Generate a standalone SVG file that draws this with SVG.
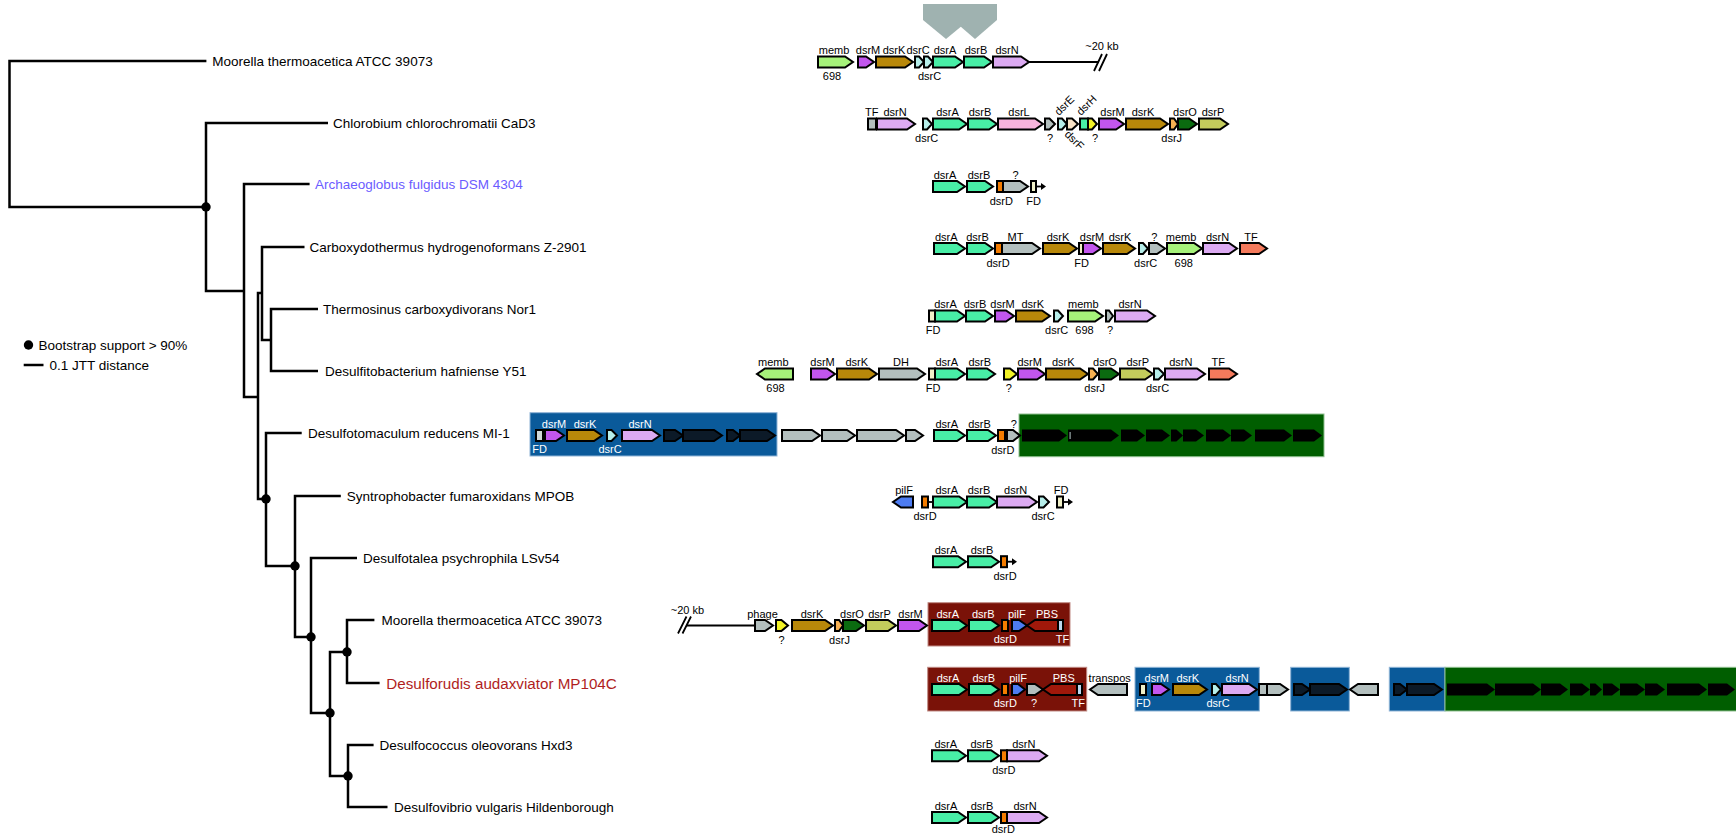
<svg xmlns="http://www.w3.org/2000/svg" width="1736" height="835" viewBox="0 0 1736 835">
<style>
.tr{fill:none;stroke:#000;stroke-width:2.5}
.nd{fill:#000}
.sp{font-family:'Liberation Sans',Arial,sans-serif;font-size:13.5px;fill:#000}
.lb{font-family:'Liberation Sans',Arial,sans-serif;font-size:11px;fill:#000;text-anchor:middle}
.w{fill:#fff}
.g{stroke:#000;stroke-width:2;stroke-linejoin:miter}
.ln{stroke:#000;stroke-width:1.8;fill:none}
.mint{fill:#48eea6}.dN{fill:#dcaaf2}.dM{fill:#c256ee}.dK{fill:#b8880a}.dC{fill:#b6eeea}
.memb{fill:#a6f27a}.dL{fill:#f8b4dc}.gr{fill:#b3bfbe}.ye{fill:#f2f226}.dJ{fill:#f7b052}
.dO{fill:#0b6b10}.dP{fill:#c3cc5c}.sal{fill:#f47a5c}.dD{fill:#f47c00}.FD{fill:#f0f0c8}
.pil{fill:#4d7cf2}.PBS{fill:#a0180a}.ltb{fill:#bcd8f0}.dF{fill:#f8e2c6}.nv{fill:#0c1a28}.bk{fill:#000}
.bbox{fill:#0a5a9a;stroke:#8fb4d6;stroke-width:1}
.gbox{fill:#005e00;stroke:#8fc08f;stroke-width:1}
.rbox{fill:#7a1208;stroke:#c08a84;stroke-width:1}
</style>

<g id="marker-arrows" fill="#9fb2b0">
<path d="M923 4H969V20L946 39L923 20Z"/>
<path d="M953 4H997V20L975 39L953 20Z"/>
</g>

<g id="tree">
<path class="tr" d="M206.4 61H9.5V207H206.4"/>
<path class="tr" d="M328 123H206V291H244"/>
<path class="tr" d="M309.6 184H244V397H258"/>
<path class="tr" d="M262 293H258V499H266"/>
<path class="tr" d="M304.5 247H262V340H271"/>
<path class="tr" d="M318 309H271V371H318"/>
<path class="tr" d="M301.7 433H266V566H295"/>
<path class="tr" d="M340.8 496H295V637H311"/>
<path class="tr" d="M357 558H311V713H330"/>
<path class="tr" d="M347 652H330V776H348"/>
<path class="tr" d="M374.4 620H347V683H379.6"/>
<path class="tr" d="M373.6 745H348V807H387.5"/>
<circle class="nd" cx="206" cy="207" r="4.7"/>
<circle class="nd" cx="266" cy="499" r="4.7"/>
<circle class="nd" cx="295" cy="566" r="4.7"/>
<circle class="nd" cx="311" cy="637" r="4.7"/>
<circle class="nd" cx="330" cy="713" r="4.7"/>
<circle class="nd" cx="347" cy="652" r="4.7"/>
<circle class="nd" cx="348" cy="776" r="4.7"/>
</g>

<g id="species">
<text class="sp" x="212.3" y="65.8">Moorella thermoacetica ATCC 39073</text>
<text class="sp" x="333" y="127.8">Chlorobium chlorochromatii CaD3</text>
<text class="sp" x="315" y="188.8" style="fill:#6b5cff">Archaeoglobus fulgidus DSM 4304</text>
<text class="sp" x="309.6" y="251.8">Carboxydothermus hydrogenoformans Z-2901</text>
<text class="sp" x="323" y="313.8">Thermosinus carboxydivorans Nor1</text>
<text class="sp" x="325" y="375.8">Desulfitobacterium hafniense Y51</text>
<text class="sp" x="308" y="437.8">Desulfotomaculum reducens MI-1</text>
<text class="sp" x="346.8" y="500.8">Syntrophobacter fumaroxidans MPOB</text>
<text class="sp" x="363" y="562.8">Desulfotalea psychrophila LSv54</text>
<text class="sp" x="381.6" y="624.8">Moorella thermoacetica ATCC 39073</text>
<text class="sp" x="386.3" y="688.5" style="fill:#b01e1e;font-size:15.2px">Desulforudis audaxviator MP104C</text>
<text class="sp" x="379.6" y="749.8">Desulfococcus oleovorans Hxd3</text>
<text class="sp" x="394" y="811.8">Desulfovibrio vulgaris Hildenborough</text>
</g>

<g id="legend">
<circle class="nd" cx="28.5" cy="345" r="4.7"/>
<text class="sp" x="38.4" y="350">Bootstrap support &gt; 90%</text>
<path class="tr" d="M23.7 365H43.5"/>
<text class="sp" x="49.4" y="370">0.1 JTT distance</text>
</g>

<g id="row1" transform="translate(0,62)">
<path class="ln" d="M1029 0H1099"/>
<path class="ln" d="M1094 9L1102 -8M1099 9L1107 -8"/>
<path class="g memb" d="M818 -5.5H845L853 0L845 5.5H818Z"/>
<path class="g dM" d="M858 -5.5H866L874 0L866 5.5H858Z"/>
<path class="g dK" d="M876 -5.5H905L913 0L905 5.5H876Z"/>
<path class="g dC" d="M915 -5.5H919L924 0L919 5.5H915Z"/>
<path class="g dC" d="M924 -5.5H928L933 0L928 5.5H924Z"/>
<path class="g mint" d="M933 -5.5H955L963 0L955 5.5H933Z"/>
<path class="g mint" d="M964 -5.5H984L992 0L984 5.5H964Z"/>
<path class="g dN" d="M993 -5.5H1021L1029 0L1021 5.5H993Z"/>
<text class="lb" x="834" y="-8">memb</text><text class="lb" x="868" y="-8">dsrM</text><text class="lb" x="894" y="-8">dsrK</text><text class="lb" x="918" y="-8">dsrC</text><text class="lb" x="945" y="-8">dsrA</text><text class="lb" x="976" y="-8">dsrB</text><text class="lb" x="1007" y="-8">dsrN</text>
<text class="lb" x="832" y="18">698</text><text class="lb" x="929.5" y="18">dsrC</text>
<text class="lb" x="1102" y="-12">~20 kb</text>
</g>

<g id="row2" transform="translate(0,124)">
<rect class="g gr" x="868" y="-5.5" width="8" height="11"/>
<path class="g dN" d="M877 -5.5H907L915 0L907 5.5H877Z"/>
<path class="g dC" d="M923 -5.5H927L932 0L927 5.5H923Z"/>
<path class="g mint" d="M933 -5.5H959L967 0L959 5.5H933Z"/>
<path class="g mint" d="M968 -5.5H989L997 0L989 5.5H968Z"/>
<path class="g dL" d="M998 -5.5H1035L1043 0L1035 5.5H998Z"/>
<path class="g gr" d="M1045 -5.5H1049.5L1055 0L1049.5 5.5H1045Z"/>
<path class="g dC" d="M1058 -5.5H1062L1067 0L1062 5.5H1058Z"/>
<path class="g dF" d="M1067 -5.5H1072L1078 0L1072 5.5H1067Z"/>
<rect class="g mint" x="1080" y="-5.5" width="8" height="11"/>
<path class="g ye" d="M1088 -5.5H1092L1097 0L1092 5.5H1088Z"/>
<path class="g dM" d="M1099 -5.5H1116L1124 0L1116 5.5H1099Z"/>
<path class="g dK" d="M1126 -5.5H1160L1168 0L1160 5.5H1126Z"/>
<path class="g dJ" d="M1170 -5.5H1174L1178 0L1174 5.5H1170Z"/>
<path class="g dO" d="M1178 -5.5H1189L1197 0L1189 5.5H1178Z"/>
<path class="g dP" d="M1199 -5.5H1220L1228 0L1220 5.5H1199Z"/>
<text class="lb" x="871.7" y="-8">TF</text><text class="lb" x="895" y="-8">dsrN</text><text class="lb" x="947.5" y="-8">dsrA</text><text class="lb" x="980" y="-8">dsrB</text><text class="lb" x="1019" y="-8">dsrL</text><text class="lb" x="1112.5" y="-8">dsrM</text><text class="lb" x="1143" y="-8">dsrK</text><text class="lb" x="1185" y="-8">dsrO</text><text class="lb" x="1213" y="-8">dsrP</text>
<text class="lb" x="926.7" y="18">dsrC</text><text class="lb" x="1050" y="18">?</text><text class="lb" x="1095" y="18">?</text><text class="lb" x="1171.7" y="18">dsrJ</text>
<text class="lb" style="text-anchor:start" transform="translate(1059,-8) rotate(-45)">dsrE</text>
<text class="lb" style="text-anchor:start" transform="translate(1081,-8) rotate(-45)">dsrH</text>
<text class="lb" style="text-anchor:start" transform="translate(1064,11) rotate(45)">dsrF</text>
</g>

<g id="row3" transform="translate(0,186.5)">
<path class="g mint" d="M933 -5.5H957L965 0L957 5.5H933Z"/>
<path class="g mint" d="M967 -5.5H985L993 0L985 5.5H967Z"/>
<rect class="g dD" x="997" y="-5.5" width="6" height="11"/>
<path class="g gr" d="M1003 -5.5H1020L1028 0L1020 5.5H1003Z"/>
<rect class="g FD" x="1031" y="-5.5" width="5" height="11"/>
<path class="ln" d="M1036 0H1042"/><path d="M1041 -3.5L1046 0L1041 3.5Z"/>
<text class="lb" x="945" y="-8">dsrA</text><text class="lb" x="979" y="-8">dsrB</text><text class="lb" x="1015.5" y="-8">?</text>
<text class="lb" x="1001.3" y="18">dsrD</text><text class="lb" x="1033.7" y="18">FD</text>
</g>

<g id="row4" transform="translate(0,248.5)">
<path class="g mint" d="M934 -5.5H957L965 0L957 5.5H934Z"/>
<path class="g mint" d="M967 -5.5H985L993 0L985 5.5H967Z"/>
<rect class="g dD" x="995" y="-5.5" width="7" height="11"/>
<path class="g gr" d="M1002 -5.5H1032L1040 0L1032 5.5H1002Z"/>
<path class="g dK" d="M1043 -5.5H1069L1077 0L1069 5.5H1043Z"/>
<rect class="g FD" x="1079" y="-5.5" width="4" height="11"/>
<path class="g dM" d="M1083 -5.5H1093L1101 0L1093 5.5H1083Z"/>
<path class="g dK" d="M1103 -5.5H1127L1135 0L1127 5.5H1103Z"/>
<path class="g dC" d="M1139 -5.5H1143L1148 0L1143 5.5H1139Z"/>
<path class="g gr" d="M1149 -5.5H1157L1165 0L1157 5.5H1149Z"/>
<path class="g memb" d="M1167 -5.5H1194L1202 0L1194 5.5H1167Z"/>
<path class="g dN" d="M1203 -5.5H1229L1237 0L1229 5.5H1203Z"/>
<path class="g sal" d="M1240 -5.5H1259L1267 0L1259 5.5H1240Z"/>
<text class="lb" x="946.3" y="-8">dsrA</text><text class="lb" x="977.5" y="-8">dsrB</text><text class="lb" x="1015.5" y="-8">MT</text><text class="lb" x="1058" y="-8">dsrK</text><text class="lb" x="1092" y="-8">dsrM</text><text class="lb" x="1120" y="-8">dsrK</text><text class="lb" x="1154.3" y="-8">?</text><text class="lb" x="1181" y="-8">memb</text><text class="lb" x="1217.5" y="-8">dsrN</text><text class="lb" x="1251" y="-8">TF</text>
<text class="lb" x="998" y="18">dsrD</text><text class="lb" x="1081.7" y="18">FD</text><text class="lb" x="1145.7" y="18">dsrC</text><text class="lb" x="1183.8" y="18">698</text>
</g>

<g id="row5" transform="translate(0,316)">
<rect class="g FD" x="929" y="-5.5" width="6" height="11"/>
<path class="g mint" d="M935 -5.5H957L965 0L957 5.5H935Z"/>
<path class="g mint" d="M966 -5.5H985L993 0L985 5.5H966Z"/>
<path class="g dM" d="M995 -5.5H1006L1014 0L1006 5.5H995Z"/>
<path class="g dK" d="M1016 -5.5H1042L1050 0L1042 5.5H1016Z"/>
<path class="g dC" d="M1054 -5.5H1058L1063 0L1058 5.5H1054Z"/>
<path class="g memb" d="M1068 -5.5H1095L1103 0L1095 5.5H1068Z"/>
<path class="g gr" d="M1106 -5.5H1109L1113 0L1109 5.5H1106Z"/>
<path class="g dN" d="M1115 -5.5H1147L1155 0L1147 5.5H1115Z"/>
<text class="lb" x="945.5" y="-8">dsrA</text><text class="lb" x="975" y="-8">dsrB</text><text class="lb" x="1002.5" y="-8">dsrM</text><text class="lb" x="1032.8" y="-8">dsrK</text><text class="lb" x="1083.3" y="-8">memb</text><text class="lb" x="1130" y="-8">dsrN</text>
<text class="lb" x="933" y="18">FD</text><text class="lb" x="1056.7" y="18">dsrC</text><text class="lb" x="1084.5" y="18">698</text><text class="lb" x="1110" y="18">?</text>
</g>

<g id="row6" transform="translate(0,374)">
<path class="g memb" d="M793 -5.5H765L757 0L765 5.5H793Z"/>
<path class="g dM" d="M811 -5.5H827L835 0L827 5.5H811Z"/>
<path class="g dK" d="M837 -5.5H869L877 0L869 5.5H837Z"/>
<path class="g gr" d="M879 -5.5H917L925 0L917 5.5H879Z"/>
<rect class="g FD" x="929" y="-5.5" width="6" height="11"/>
<path class="g mint" d="M935 -5.5H957L965 0L957 5.5H935Z"/>
<path class="g mint" d="M967 -5.5H987L995 0L987 5.5H967Z"/>
<path class="g ye" d="M1004 -5.5H1010L1017 0L1010 5.5H1004Z"/>
<path class="g dM" d="M1018 -5.5H1037L1045 0L1037 5.5H1018Z"/>
<path class="g dK" d="M1046 -5.5H1080L1088 0L1080 5.5H1046Z"/>
<path class="g dJ" d="M1089 -5.5H1093L1098 0L1093 5.5H1089Z"/>
<path class="g dO" d="M1099 -5.5H1111L1119 0L1111 5.5H1099Z"/>
<path class="g dP" d="M1120 -5.5H1145L1153 0L1145 5.5H1120Z"/>
<path class="g dC" d="M1154 -5.5H1158.5L1164 0L1158.5 5.5H1154Z"/>
<path class="g dN" d="M1165 -5.5H1197L1205 0L1197 5.5H1165Z"/>
<path class="g sal" d="M1209 -5.5H1229L1237 0L1229 5.5H1209Z"/>
<text class="lb" x="773.3" y="-8">memb</text><text class="lb" x="822.5" y="-8">dsrM</text><text class="lb" x="856.7" y="-8">dsrK</text><text class="lb" x="901" y="-8">DH</text><text class="lb" x="946.7" y="-8">dsrA</text><text class="lb" x="979.7" y="-8">dsrB</text><text class="lb" x="1029.7" y="-8">dsrM</text><text class="lb" x="1063.3" y="-8">dsrK</text><text class="lb" x="1105" y="-8">dsrO</text><text class="lb" x="1137.7" y="-8">dsrP</text><text class="lb" x="1180.8" y="-8">dsrN</text><text class="lb" x="1218.3" y="-8">TF</text>
<text class="lb" x="775.5" y="18">698</text><text class="lb" x="933" y="18">FD</text><text class="lb" x="1008.7" y="18">?</text><text class="lb" x="1094.7" y="18">dsrJ</text><text class="lb" x="1157.5" y="18">dsrC</text>
</g>

<g id="row7" transform="translate(0,435.5)">
<rect class="bbox" x="530" y="-22.8" width="247" height="43.3"/>
<rect class="gbox" x="1019" y="-21.5" width="305" height="42.7"/>
<rect class="g" fill="#d0d8d8" x="536" y="-5.5" width="7" height="11"/>
<path class="g dM" d="M545 -5.5H556L564 0L556 5.5H545Z"/>
<path class="g dK" d="M567 -5.5H594L602 0L594 5.5H567Z"/>
<path class="g dC" d="M607 -5.5H611.5L617 0L611.5 5.5H607Z"/>
<path class="g dN" d="M622 -5.5H652L660 0L652 5.5H622Z"/>
<path class="g nv" d="M664 -5.5H675L683 0L675 5.5H664Z"/>
<path class="g nv" d="M683 -5.5H714L722 0L714 5.5H683Z"/>
<path class="g nv" d="M727 -5.5H733L740 0L733 5.5H727Z"/>
<path class="g nv" d="M740 -5.5H767L775 0L767 5.5H740Z"/>
<path class="g gr" d="M782 -5.5H812L820 0L812 5.5H782Z"/>
<path class="g gr" d="M822 -5.5H847L855 0L847 5.5H822Z"/>
<path class="g gr" d="M857 -5.5H896L904 0L896 5.5H857Z"/>
<path class="g gr" d="M906 -5.5H915L923 0L915 5.5H906Z"/>
<path class="g mint" d="M934 -5.5H957L965 0L957 5.5H934Z"/>
<path class="g mint" d="M967 -5.5H988L996 0L988 5.5H967Z"/>
<rect class="g dD" x="998" y="-5.5" width="7" height="11"/>
<path class="g gr" d="M1007 -5.5H1013L1020 0L1013 5.5H1007Z"/>
<g class="bk">
<path d="M1022 -6H1059L1067 0L1059 6H1022Z"/>
<path d="M1068 -6H1111L1119 0L1111 6H1068Z"/>
<path d="M1121 -6H1137L1145 0L1137 6H1121Z"/>
<path d="M1146 -6H1162L1170 0L1162 6H1146Z"/>
<path d="M1171 -6H1176.4L1183 0L1176.4 6H1171Z"/>
<path d="M1183 -6H1196L1204 0L1196 6H1183Z"/>
<path d="M1206 -6H1223L1231 0L1223 6H1206Z"/>
<path d="M1231 -6H1244L1252 0L1244 6H1231Z"/>
<path d="M1255 -6H1284L1292 0L1284 6H1255Z"/>
<path d="M1293 -6H1314L1322 0L1314 6H1293Z"/>
</g>
<rect x="1069.5" y="-3.5" width="1.2" height="7" fill="#9aa"/>
<text class="lb w" x="554" y="-8">dsrM</text><text class="lb w" x="585" y="-8">dsrK</text><text class="lb w" x="640" y="-8">dsrN</text>
<text class="lb w" x="539.7" y="17.5">FD</text><text class="lb w" x="610" y="17.5">dsrC</text>
<text class="lb" x="946.7" y="-8">dsrA</text><text class="lb" x="979.5" y="-8">dsrB</text><text class="lb" x="1013.7" y="-8">?</text>
<text class="lb" x="1002.8" y="18">dsrD</text>
</g>

<g id="row8" transform="translate(0,502)">
<path class="g pil" d="M913 -5.5H901L893 0L901 5.5H913Z"/>
<path class="ln" d="M928 0H933"/>
<rect class="g dD" x="922" y="-5.5" width="6" height="11"/>
<path class="g mint" d="M933 -5.5H959L967 0L959 5.5H933Z"/>
<path class="g mint" d="M967 -5.5H989L997 0L989 5.5H967Z"/>
<path class="g dN" d="M997 -5.5H1029L1037 0L1029 5.5H997Z"/>
<path class="g dC" d="M1039 -5.5H1043.5L1049 0L1043.5 5.5H1039Z"/>
<rect class="g FD" x="1057" y="-5.5" width="6" height="11"/>
<path class="ln" d="M1063 0H1069"/><path d="M1068 -3.5L1073 0L1068 3.5Z"/>
<text class="lb" x="904" y="-8">pilF</text><text class="lb" x="946.7" y="-8">dsrA</text><text class="lb" x="979" y="-8">dsrB</text><text class="lb" x="1015.7" y="-8">dsrN</text><text class="lb" x="1061" y="-8">FD</text>
<text class="lb" x="925" y="18">dsrD</text><text class="lb" x="1043" y="18">dsrC</text>
</g>

<g id="row9" transform="translate(0,561.7)">
<path class="g mint" d="M933 -5.5H958L966 0L958 5.5H933Z"/>
<path class="g mint" d="M968 -5.5H991L999 0L991 5.5H968Z"/>
<rect class="g dD" x="1001" y="-5.5" width="6" height="11"/>
<path class="ln" d="M1007 0H1013"/><path d="M1012 -3.5L1017 0L1012 3.5Z"/>
<text class="lb" x="946" y="-8">dsrA</text><text class="lb" x="982" y="-8">dsrB</text>
<text class="lb" x="1005" y="18">dsrD</text>
</g>

<g id="row10" transform="translate(0,625.5)">
<rect class="rbox" x="928" y="-22.8" width="142" height="43.3"/>
<path class="ln" d="M686 0H755"/>
<path class="ln" d="M678 8L686.5 -9M682.5 8L691 -9"/>
<path class="g gr" d="M755 -5.5H765L773 0L765 5.5H755Z"/>
<path class="g ye" d="M776 -5.5H781.4L788 0L781.4 5.5H776Z"/>
<path class="g dK" d="M792 -5.5H825L833 0L825 5.5H792Z"/>
<path class="g dJ" d="M835 -5.5H839L843 0L839 5.5H835Z"/>
<path class="g dO" d="M843 -5.5H856L864 0L856 5.5H843Z"/>
<path class="g dP" d="M866 -5.5H888L896 0L888 5.5H866Z"/>
<path class="g dM" d="M898 -5.5H919L927 0L919 5.5H898Z"/>
<path class="g mint" d="M932 -5.5H959L967 0L959 5.5H932Z"/>
<path class="g mint" d="M969 -5.5H991L999 0L991 5.5H969Z"/>
<rect class="g dD" x="1002" y="-5.5" width="6" height="11"/>
<path class="g pil" d="M1012 -5.5H1019L1027 0L1019 5.5H1012Z"/>
<path class="g PBS" d="M1058 -5.5H1035L1027 0L1035 5.5H1058Z"/>
<rect class="g ltb" x="1058" y="-5.5" width="5" height="11"/>
<text class="lb" x="687.5" y="-11.5">~20 kb</text>
<text class="lb" x="762.5" y="-8">phage</text><text class="lb" x="812" y="-8">dsrK</text><text class="lb" x="852" y="-8">dsrO</text><text class="lb" x="879.5" y="-8">dsrP</text><text class="lb" x="910.5" y="-8">dsrM</text>
<text class="lb w" x="947.7" y="-8">dsrA</text><text class="lb w" x="983.3" y="-8">dsrB</text><text class="lb w" x="1016.8" y="-8">pilF</text><text class="lb w" x="1047" y="-8">PBS</text>
<text class="lb" x="781.5" y="18">?</text><text class="lb" x="839.5" y="18">dsrJ</text>
<text class="lb w" x="1005.3" y="17.5">dsrD</text><text class="lb w" x="1062.5" y="17.5">TF</text>
</g>

<g id="row11" transform="translate(0,689.5)">
<rect class="rbox" x="927.7" y="-22.2" width="159" height="43.7"/>
<rect class="bbox" x="1135" y="-22.2" width="124.3" height="43.7"/>
<rect class="bbox" x="1290.7" y="-22.2" width="58.6" height="43.7"/>
<rect class="bbox" x="1389.3" y="-22.2" width="55.7" height="43.7"/>
<rect class="gbox" x="1445" y="-22.2" width="292" height="43.7"/>
<path class="g mint" d="M932 -5.5H959L967 0L959 5.5H932Z"/>
<path class="g mint" d="M969 -5.5H991L999 0L991 5.5H969Z"/>
<rect class="g dD" x="1002" y="-5.5" width="6" height="11"/>
<path class="g pil" d="M1012 -5.5H1018L1025 0L1018 5.5H1012Z"/>
<path class="g gr" d="M1027 -5.5H1035L1043 0L1035 5.5H1027Z"/>
<path class="g PBS" d="M1077 -5.5H1051L1043 0L1051 5.5H1077Z"/>
<rect class="g ltb" x="1077" y="-5.5" width="5" height="11"/>
<path class="g gr" d="M1127 -5.5H1098L1090 0L1098 5.5H1127Z"/>
<rect class="g FD" x="1140" y="-5.5" width="6" height="11"/>
<path class="g dM" d="M1152 -5.5H1161L1169 0L1161 5.5H1152Z"/>
<path class="g dK" d="M1173 -5.5H1199L1207 0L1199 5.5H1173Z"/>
<path class="g dC" d="M1212 -5.5H1216L1221 0L1216 5.5H1212Z"/>
<path class="g dN" d="M1222 -5.5H1249L1257 0L1249 5.5H1222Z"/>
<rect class="g gr" x="1259" y="-5.5" width="8" height="11"/>
<path class="g gr" d="M1267 -5.5H1280L1288 0L1280 5.5H1267Z"/>
<path class="g nv" d="M1294 -5.5H1302L1310 0L1302 5.5H1294Z"/>
<path class="g nv" d="M1310 -5.5H1339L1347 0L1339 5.5H1310Z"/>
<path class="g gr" d="M1378 -5.5H1358L1350 0L1358 5.5H1378Z"/>
<path class="g nv" d="M1394 -5.5H1400L1407 0L1400 5.5H1394Z"/>
<path class="g nv" d="M1407 -5.5H1434L1442 0L1434 5.5H1407Z"/>
<g class="bk">
<path d="M1447 -6H1487L1495 0L1487 6H1447Z"/>
<path d="M1495 -6H1533L1541 0L1533 6H1495Z"/>
<path d="M1541 -6H1560L1568 0L1560 6H1541Z"/>
<path d="M1570 -6H1582L1590 0L1582 6H1570Z"/>
<path d="M1590 -6H1595.4L1602 0L1595.4 6H1590Z"/>
<path d="M1603 -6H1612L1620 0L1612 6H1603Z"/>
<path d="M1620 -6H1637L1645 0L1637 6H1620Z"/>
<path d="M1645 -6H1657L1665 0L1657 6H1645Z"/>
<path d="M1667 -6H1699L1707 0L1699 6H1667Z"/>
<path d="M1708 -6H1727L1735 0L1727 6H1708Z"/>
</g>
<text class="lb w" x="948" y="-8">dsrA</text><text class="lb w" x="983.8" y="-8">dsrB</text><text class="lb w" x="1018" y="-8">pilF</text><text class="lb w" x="1063.8" y="-8">PBS</text>
<text class="lb" x="1109.7" y="-8">transpos</text>
<text class="lb w" x="1156.8" y="-8">dsrM</text><text class="lb w" x="1187.7" y="-8">dsrK</text><text class="lb w" x="1237.2" y="-8">dsrN</text>
<text class="lb w" x="1005.3" y="17.5">dsrD</text><text class="lb w" x="1034" y="17.5">?</text><text class="lb w" x="1078.3" y="17.5">TF</text><text class="lb w" x="1143.3" y="17.5">FD</text><text class="lb w" x="1218" y="17.5">dsrC</text>
</g>

<g id="row12" transform="translate(0,755.8)">
<path class="g mint" d="M932 -5.5H958L966 0L958 5.5H932Z"/>
<path class="g mint" d="M968 -5.5H991L999 0L991 5.5H968Z"/>
<rect class="g dD" x="1001" y="-5.5" width="6" height="11"/>
<path class="g dN" d="M1007 -5.5H1039L1047 0L1039 5.5H1007Z"/>
<text class="lb" x="945.8" y="-8">dsrA</text><text class="lb" x="981.7" y="-8">dsrB</text><text class="lb" x="1023.8" y="-8">dsrN</text>
<text class="lb" x="1003.8" y="18">dsrD</text>
</g>

<g id="row13" transform="translate(0,817.5)">
<path class="g mint" d="M932 -5.5H958L966 0L958 5.5H932Z"/>
<path class="g mint" d="M968 -5.5H991L999 0L991 5.5H968Z"/>
<rect class="g dD" x="1001" y="-5.5" width="6" height="11"/>
<path class="g dN" d="M1007 -5.5H1039L1047 0L1039 5.5H1007Z"/>
<text class="lb" x="946" y="-8">dsrA</text><text class="lb" x="982" y="-8">dsrB</text><text class="lb" x="1025" y="-8">dsrN</text>
<text class="lb" x="1003.3" y="15.5">dsrD</text>
</g>
</svg>
